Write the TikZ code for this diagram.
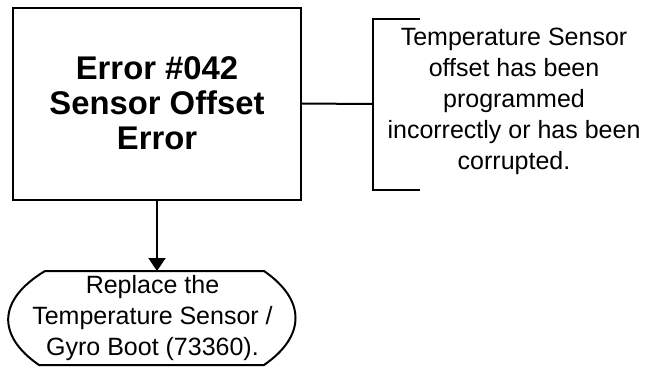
\documentclass[tikz,border=0pt]{standalone}
\usepackage{fontspec}
\setmainfont{Liberation Sans}
\usetikzlibrary{arrows.meta}
\begin{document}
\begin{tikzpicture}[x=0.5pt, y=-0.5pt, line width=1pt,
  txt/.style={font=\fontsize{12.5}{15.5}\selectfont, align=center, inner sep=0pt}]
  \useasboundingbox (0,0) rectangle (652,371);
  % error box
  \node[draw, minimum width=144pt, minimum height=96pt, align=center,
    font=\fontsize{16.4}{17.5}\selectfont\bfseries] (err) at (157,103.5) {Error \#042\\Sensor Offset\\Error};
  % note with bracket
  \node[txt] (note) at (514,101) {Temperature Sensor\\offset has been\\programmed\\incorrectly or has been\\corrupted.};
  \coordinate (brk) at (373,104);
  \coordinate (brktop) at (373,19);
  \coordinate (brkbot) at (373,190);
  \draw (err.east) -- (brk);
  \draw (420,19) -- (brktop) -- (brkbot) -- (420,190);
  % terminator
  \node[txt, minimum width=142.5pt, minimum height=46pt] (fix) at (152.5,318) {Replace the\\Temperature Sensor /\\Gyro Boot (73360).};
  \draw ([xshift=18pt]fix.north west) -- ([xshift=-16pt]fix.north east)
    .. controls ([xshift=5pt,yshift=9pt]fix.east) and ([xshift=5pt,yshift=-9pt]fix.east) .. ([xshift=-16pt]fix.south east)
    -- ([xshift=15pt]fix.south west)
    .. controls ([xshift=-6pt,yshift=-9pt]fix.west) and ([xshift=-6pt,yshift=9pt]fix.west) .. cycle;
  \draw[-{Triangle[length=6.5pt,width=8.5pt]}] (err.south) -- (err.south |- fix.north);
\end{tikzpicture}
\end{document}
